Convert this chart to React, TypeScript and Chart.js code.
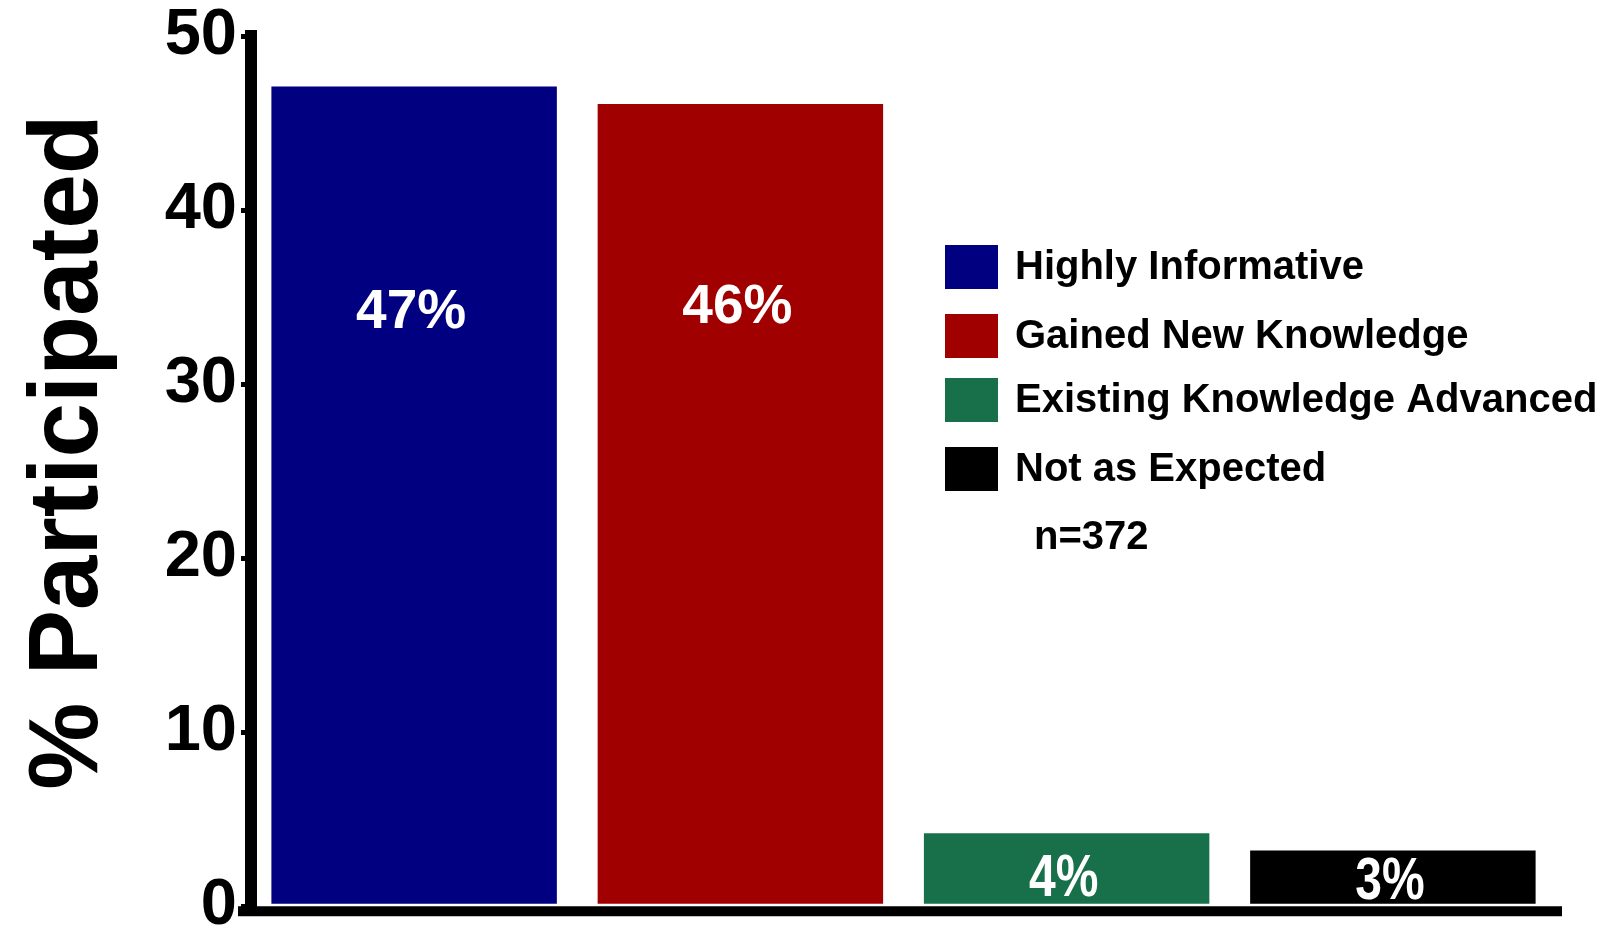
import React, { useEffect, useRef } from "react";
import { Chart, registerables } from "chart.js";

Chart.register(...registerables);

const categories = [
  "Highly Informative",
  "Gained New Knowledge",
  "Existing Knowledge Advanced",
  "Not as Expected",
];
const values = [47.1, 46.1, 4.2, 3.2];
const valueLabels = ["47%", "46%", "4%", "3%"];
const barColors = ["#000080", "#a00000", "#17704a", "#000000"];
const yTicks = [0, 10, 20, 30, 40, 50];
const yTitle = "% Participated";
const sampleNote = "n=372";

const FONT = "'Liberation Sans', Arial, sans-serif";

const decorPlugin = {
  id: "decor",
  afterDatasetsDraw(chart: any) {
    const { ctx, chartArea } = chart;
    const xs = chart.scales.x;
    const ys = chart.scales.y;
    ctx.save();
    // x axis line
    ctx.fillStyle = "#000";
    ctx.fillRect(chartArea.left - 13, chartArea.bottom, chartArea.right - chartArea.left + 19, 10);
    // bar value labels
    ctx.fillStyle = "#ffffff";
    ctx.textAlign = "center";
    ctx.textBaseline = "middle";
    values.forEach((v, i) => {
      const x = xs.getPixelForValue(i) - 3;
      const big = v > 10;
      const anchor = big ? (i === 0 ? 34.1 : 34.4) : (i === 2 ? 1.55 : 1.35);
      const y = ys.getPixelForValue(anchor);
      if (big) {
        ctx.font = `bold 55px ${FONT}`;
        ctx.fillText(valueLabels[i], x, y);
      } else {
        ctx.save();
        ctx.translate(x, y);
        ctx.scale(0.8, 1);
        ctx.font = `bold 60px ${FONT}`;
        ctx.fillText(valueLabels[i], 0, 0);
        ctx.restore();
      }
    });
    ctx.restore();
  },
  afterDraw(chart: any) {
    const { ctx } = chart;
    ctx.save();
    // y title
    ctx.save();
    ctx.translate(97, 452);
    ctx.rotate(-Math.PI / 2);
    ctx.font = `bold 98px ${FONT}`;
    ctx.fillStyle = "#000";
    ctx.textAlign = "center";
    ctx.textBaseline = "alphabetic";
    ctx.fillText(yTitle, 0, 0);
    ctx.restore();
    // legend
    const rowCenters = [267, 336, 400, 469];
    ctx.font = `bold 40px ${FONT}`;
    ctx.textAlign = "left";
    ctx.textBaseline = "middle";
    categories.forEach((c, i) => {
      const cy = rowCenters[i];
      ctx.fillStyle = barColors[i];
      ctx.fillRect(945, cy - 22, 53, 44);
      ctx.fillStyle = "#000";
      ctx.fillText(c, 1015, cy + 1);
    });
    ctx.fillText(sampleNote, 1034, 538);
    ctx.restore();
  },
};

export default function App() {
  const ref = useRef<HTMLCanvasElement | null>(null);
  useEffect(() => {
    document.body.style.margin = "0";
    if (!ref.current) return;
    const chart = new Chart(ref.current, {
      type: "bar",
      data: {
        labels: categories,
        datasets: [
          {
            data: values,
            backgroundColor: barColors,
            borderWidth: 0,
            barPercentage: 0.875,
            categoryPercentage: 1,
          },
        ],
      },
      options: {
        animation: false,
        responsive: true,
        maintainAspectRatio: false,
        layout: { padding: { top: 36, bottom: 24, left: 0, right: 57 } },
        plugins: { legend: { display: false }, tooltip: { enabled: false } },
        scales: {
          x: { display: false },
          y: {
            min: 0,
            max: 50,
            afterBuildTicks: (s: any) => {
              s.ticks = yTicks.map((v) => ({ value: v }));
            },
            afterFit: (s: any) => {
              s.width = 251;
            },
            ticks: {
              color: "#000",
              padding: 4,
              font: { family: FONT, weight: "bold", size: 65, lineHeight: 0.7 },
            },
            grid: {
              display: true,
              drawOnChartArea: false,
              drawTicks: true,
              tickLength: 10,
              lineWidth: 5,
              color: "#000",
            },
            border: { display: true, width: 12, color: "#000" },
          },
        },
      },
      plugins: [decorPlugin],
    });
    return () => chart.destroy();
  }, []);
  return (
    <div style={{ position: "absolute", left: 0, top: 0, width: 1613, height: 933, background: "#fff" }}>
      <canvas ref={ref} />
    </div>
  );
}
